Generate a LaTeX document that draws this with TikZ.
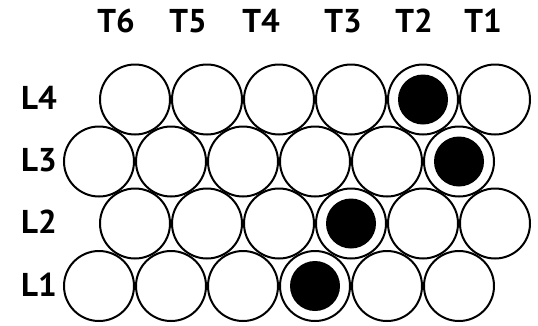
\documentclass[tikz,border=0pt]{standalone}
\usepackage{fontspec}
\setmainfont{PT Sans}
\begin{document}
\begin{tikzpicture}[x=1pt,y=-1pt,
  cell/.style={circle,draw=black,line width=2pt,fill=white,minimum size=70pt,inner sep=0pt},
  bead/.style={circle,fill=black,minimum size=50pt,inner sep=0pt},
  lbl/.style={font=\fontsize{33}{33}\selectfont\bfseries,inner sep=0pt}]
\useasboundingbox (0,0) rectangle (538,325);
% column labels
\foreach \t/\x in {6/116,5/188,4/261,3/343,2/414,1/483}
  \node[lbl] (T\t) at (\x,21) {T\t};
% row labels
\foreach \r/\y in {4/98,3/160,2/222,1/285}
  \node[lbl] (L\r) at (39,\y) {L\r};
% circles
\foreach \c in {1,...,6} {
  \node[cell] (r4c\c) at ({135+72*(\c-1)},99.5) {};
  \node[cell] (r3c\c) at ({99+72*(\c-1)},161.5) {};
  \node[cell] (r2c\c) at ({135+72*(\c-1)},223.5) {};
  \node[cell] (r1c\c) at ({99+72*(\c-1)},286) {};
}
\node[bead] (b4) at (r4c5) {};
\node[bead] (b3) at (r3c6) {};
\node[bead] (b2) at (r2c4) {};
\node[bead] (b1) at (r1c4) {};
\end{tikzpicture}
\end{document}
